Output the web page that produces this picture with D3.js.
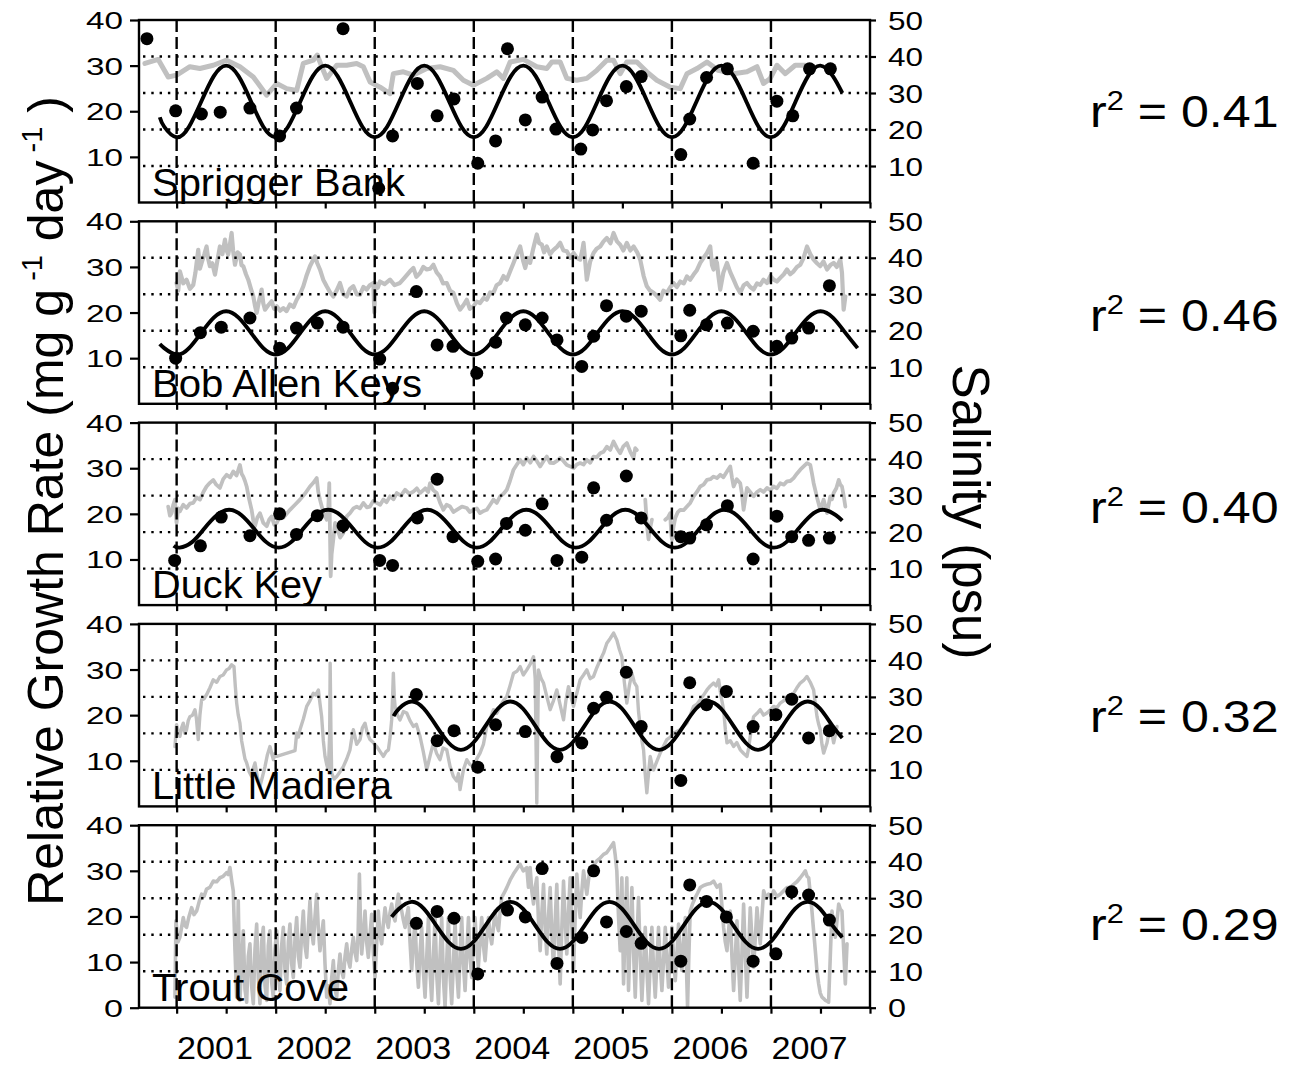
<!DOCTYPE html>
<html><head><meta charset="utf-8">
<script src="https://cdn.jsdelivr.net/npm/d3@7"></script>
<style>body{margin:0;background:#fff} svg text{font-family:"Liberation Sans",Arial,Helvetica,sans-serif;fill:#000}</style>
</head><body>
<svg id="c" width="1303" height="1065"></svg>
<script>
// ---------------- DATA ----------------
const sites = ["Sprigger Bank","Bob Allen Keys","Duck Key","Little Madiera","Trout Cove"];
const rSquared = ["0.41","0.46","0.40","0.32","0.29"];
const yearLabels = [2001,2002,2003,2004,2005,2006,2007];
const xTicks = [2001,2001.5,2002,2002.5,2003,2003.5,2004,2004.5,2005,2005.5,2006,2006.5,2007,2007.5,2008];
const rgrTicks = [10,20,30,40];
const rgrTicksBottom = [0,10,20,30,40];
const salTicks = [10,20,30,40,50];
const salTicksBottom = [0,10,20,30,40,50];
const salGrid = [10,20,30,40];

// Salinity (psu) series [decimal year, psu]
const sbSal = [[2000.680,38.1],[2000.814,39.2],[2000.915,34.4],[2001.000,34.9],[2001.134,37.2],[2001.235,36.7],[2001.370,37.6],[2001.505,39.0],[2001.639,37.2],[2001.774,34.4],[2001.909,29.4],[2002.010,32.6],[2002.111,31.2],[2002.212,30.7],[2002.279,38.1],[2002.380,39.0],[2002.420,40.4],[2002.465,37.2],[2002.515,34.0],[2002.616,37.6],[2002.717,37.6],[2002.818,38.1],[2002.885,37.2],[2002.953,33.0],[2003.054,31.6],[2003.155,29.8],[2003.188,35.3],[2003.289,35.8],[2003.390,34.9],[2003.525,36.7],[2003.660,37.2],[2003.794,36.2],[2003.895,33.5],[2003.996,32.1],[2004.131,34.0],[2004.232,35.8],[2004.299,34.0],[2004.367,38.5],[2004.501,39.2],[2004.636,37.2],[2004.737,36.7],[2004.788,38.5],[2004.872,38.5],[2004.939,34.0],[2005.040,33.5],[2005.141,34.0],[2005.242,36.2],[2005.343,39.0],[2005.410,39.0],[2005.478,35.3],[2005.545,38.5],[2005.646,38.5],[2005.747,35.8],[2005.848,33.5],[2005.983,31.6],[2006.084,31.2],[2006.152,35.3],[2006.253,36.7],[2006.354,38.5],[2006.468,36.2],[2006.622,35.3],[2006.758,35.8],[2006.859,37.2],[2006.925,32.6],[2006.993,34.0],[2007.061,37.6],[2007.145,35.3],[2007.245,37.6],[2007.346,37.6]];

const bakSal = [[2000.999,33.1],[2001.016,31.0],[2001.033,36.3],[2001.067,33.0],[2001.100,34.0],[2001.134,31.5],[2001.168,32.6],[2001.190,36.0],[2001.218,42.2],[2001.235,37.0],[2001.252,38.6],[2001.280,41.0],[2001.302,43.1],[2001.320,39.5],[2001.336,37.7],[2001.360,38.5],[2001.387,35.4],[2001.410,39.0],[2001.437,43.1],[2001.462,41.0],[2001.488,45.0],[2001.505,42.0],[2001.521,40.9],[2001.540,44.0],[2001.555,46.8],[2001.570,42.0],[2001.589,38.1],[2001.615,41.5],[2001.639,40.9],[2001.655,38.0],[2001.673,37.7],[2001.700,35.5],[2001.723,34.0],[2001.750,31.5],[2001.774,29.4],[2001.790,27.0],[2001.808,24.9],[2001.830,28.0],[2001.858,31.3],[2001.875,27.5],[2001.892,25.8],[2001.925,27.0],[2001.959,28.1],[2001.985,26.0],[2002.010,26.7],[2002.045,25.5],[2002.077,26.2],[2002.110,25.4],[2002.144,27.2],[2002.180,26.5],[2002.212,28.5],[2002.245,30.0],[2002.279,32.2],[2002.310,35.0],[2002.346,37.7],[2002.370,39.0],[2002.397,40.4],[2002.420,38.5],[2002.447,36.8],[2002.480,34.0],[2002.515,32.2],[2002.550,30.5],[2002.582,29.4],[2002.615,31.0],[2002.649,33.1],[2002.683,30.0],[2002.717,29.4],[2002.750,31.5],[2002.784,32.2],[2002.818,30.0],[2002.851,29.9],[2002.885,32.0],[2002.919,31.3],[2002.950,32.5],[2002.986,33.1],[2002.996,25.0],[2003.006,33.0],[2003.030,31.8],[2003.053,33.5],[2003.100,32.8],[2003.154,34.0],[2003.200,32.5],[2003.255,33.1],[2003.300,34.5],[2003.356,36.3],[2003.390,37.2],[2003.420,34.8],[2003.457,35.8],[2003.490,37.5],[2003.525,36.8],[2003.560,37.0],[2003.592,38.1],[2003.625,36.0],[2003.659,34.9],[2003.690,33.0],[2003.727,33.1],[2003.760,31.0],[2003.794,30.4],[2003.830,27.5],[2003.861,25.8],[2003.895,27.0],[2003.929,28.5],[2003.960,26.0],[2003.996,26.7],[2004.030,28.0],[2004.063,27.6],[2004.100,29.0],[2004.131,28.5],[2004.165,30.5],[2004.199,30.4],[2004.230,32.5],[2004.266,33.1],[2004.300,35.0],[2004.333,34.0],[2004.370,36.5],[2004.401,38.6],[2004.435,41.0],[2004.468,43.1],[2004.500,39.0],[2004.519,37.2],[2004.545,40.0],[2004.569,38.6],[2004.600,42.5],[2004.636,46.4],[2004.660,44.0],[2004.687,43.6],[2004.710,41.5],[2004.737,43.1],[2004.770,41.0],[2004.805,42.2],[2004.840,43.0],[2004.872,44.1],[2004.905,42.0],[2004.939,41.8],[2004.975,40.0],[2005.007,41.3],[2005.040,40.0],[2005.074,39.5],[2005.095,42.0],[2005.108,44.1],[2005.125,39.0],[2005.141,34.0],[2005.175,39.0],[2005.209,41.3],[2005.240,42.5],[2005.276,43.1],[2005.310,44.5],[2005.343,45.4],[2005.380,44.0],[2005.411,46.8],[2005.445,44.5],[2005.478,43.6],[2005.510,42.0],[2005.545,44.1],[2005.580,42.0],[2005.613,43.1],[2005.650,41.5],[2005.680,39.5],[2005.715,35.0],[2005.747,32.2],[2005.780,31.0],[2005.815,30.4],[2005.850,29.5],[2005.882,28.5],[2005.915,31.0],[2005.949,30.4],[2005.985,32.0],[2006.017,33.1],[2006.050,32.0],[2006.084,33.5],[2006.120,33.0],[2006.152,34.9],[2006.185,34.0],[2006.219,35.4],[2006.250,36.5],[2006.286,38.6],[2006.320,40.0],[2006.354,41.3],[2006.387,43.1],[2006.405,38.0],[2006.421,36.8],[2006.440,39.5],[2006.455,38.6],[2006.470,35.0],[2006.488,31.3],[2006.520,36.0],[2006.556,38.6],[2006.590,36.0],[2006.623,34.0],[2006.655,32.0],[2006.690,30.4],[2006.725,32.5],[2006.758,33.1],[2006.790,32.0],[2006.825,31.3],[2006.860,33.0],[2006.892,32.6],[2006.925,34.0],[2006.960,33.1],[2006.995,35.0],[2007.027,34.0],[2007.060,33.5],[2007.094,34.5],[2007.130,35.5],[2007.162,36.8],[2007.195,35.5],[2007.229,36.3],[2007.262,37.5],[2007.296,38.1],[2007.330,40.0],[2007.364,43.1],[2007.397,41.0],[2007.431,39.5],[2007.465,38.5],[2007.498,37.7],[2007.530,39.0],[2007.566,36.8],[2007.600,38.0],[2007.633,38.6],[2007.665,37.5],[2007.700,39.5],[2007.717,36.0],[2007.734,25.8],[2007.751,29.4]];

const dkSal = [[2000.915,27.0],[2000.932,24.5],[2000.949,25.2],[2000.966,27.5],[2000.983,28.9],[2000.999,22.5],[2001.016,26.5],[2001.033,25.7],[2001.067,27.5],[2001.100,26.6],[2001.134,27.8],[2001.168,28.0],[2001.200,29.5],[2001.235,28.9],[2001.270,31.0],[2001.302,32.5],[2001.336,33.5],[2001.370,34.3],[2001.400,33.0],[2001.437,32.1],[2001.470,34.5],[2001.504,35.7],[2001.540,35.0],[2001.572,36.6],[2001.605,35.5],[2001.639,38.4],[2001.656,36.0],[2001.673,35.2],[2001.690,34.0],[2001.707,32.5],[2001.732,29.0],[2001.757,26.1],[2001.775,23.0],[2001.791,21.6],[2001.815,24.0],[2001.841,25.2],[2001.875,22.5],[2001.909,21.6],[2001.935,23.5],[2001.959,24.3],[2001.985,22.0],[2002.010,22.5],[2002.045,24.5],[2002.077,23.9],[2002.110,25.0],[2002.144,26.1],[2002.195,27.5],[2002.245,28.9],[2002.295,30.5],[2002.346,32.5],[2002.380,33.5],[2002.414,34.8],[2002.430,31.0],[2002.447,28.9],[2002.480,25.5],[2002.515,23.4],[2002.530,26.0],[2002.541,33.4],[2002.548,20.0],[2002.555,7.9],[2002.565,14.0],[2002.582,18.0],[2002.600,22.5],[2002.616,21.6],[2002.650,18.5],[2002.683,19.8],[2002.700,22.0],[2002.717,24.3],[2002.750,25.2],[2002.785,26.5],[2002.818,27.0],[2002.850,26.5],[2002.885,28.0],[2002.920,26.8],[2002.952,27.0],[2002.985,28.5],[2003.020,28.0],[2003.055,27.5],[2003.087,28.9],[2003.120,28.2],[2003.154,29.8],[2003.190,29.0],[2003.222,30.7],[2003.265,30.0],[2003.306,31.6],[2003.350,30.5],[2003.390,31.1],[2003.425,32.0],[2003.457,30.7],[2003.510,32.0],[2003.540,31.0],[2003.558,33.4],[2003.590,31.5],[2003.626,30.7],[2003.660,28.0],[2003.693,26.1],[2003.725,27.5],[2003.760,27.0],[2003.795,25.5],[2003.828,26.1],[2003.880,27.0],[2003.929,26.6],[2003.960,25.5],[2003.996,26.1],[2004.030,26.5],[2004.063,25.2],[2004.100,25.8],[2004.131,26.1],[2004.165,27.5],[2004.199,28.9],[2004.232,28.0],[2004.266,29.8],[2004.300,30.5],[2004.333,31.6],[2004.365,34.0],[2004.401,37.1],[2004.435,38.5],[2004.468,39.8],[2004.500,38.5],[2004.535,40.3],[2004.570,39.0],[2004.603,40.7],[2004.636,39.5],[2004.670,38.0],[2004.705,39.5],[2004.737,40.7],[2004.770,39.0],[2004.805,38.9],[2004.840,39.5],[2004.872,40.3],[2004.905,39.5],[2004.939,38.4],[2004.975,38.0],[2005.007,37.5],[2005.040,38.5],[2005.074,38.9],[2005.108,38.5],[2005.141,39.8],[2005.175,39.0],[2005.209,40.7],[2005.242,40.5],[2005.276,41.6],[2005.310,42.0],[2005.343,43.4],[2005.377,42.5],[2005.411,44.8],[2005.445,43.0],[2005.478,41.6],[2005.510,43.5],[2005.545,44.4],[2005.580,42.0],[2005.613,40.3],[2005.630,43.0],[2005.646,42.5],[2005.660,null],[2005.731,28.9],[2005.748,22.0],[2005.764,18.0],[2005.780,21.0],[2005.798,23.4],[2005.810,null],[2005.933,23.4],[2005.960,24.0],[2005.983,25.2],[2005.992,20.0],[2006.000,18.0],[2006.017,21.5],[2006.034,23.9],[2006.060,25.5],[2006.084,26.1],[2006.118,26.0],[2006.152,27.0],[2006.185,28.0],[2006.219,29.8],[2006.252,31.0],[2006.286,32.5],[2006.320,33.0],[2006.354,34.3],[2006.388,34.5],[2006.421,35.2],[2006.455,34.8],[2006.488,35.7],[2006.520,35.0],[2006.556,36.6],[2006.589,38.0],[2006.606,35.0],[2006.623,32.5],[2006.655,34.5],[2006.690,33.4],[2006.707,30.5],[2006.724,26.1],[2006.740,29.0],[2006.758,32.1],[2006.790,31.0],[2006.825,29.8],[2006.860,31.0],[2006.892,31.6],[2006.925,31.0],[2006.960,32.1],[2006.995,31.5],[2007.027,32.5],[2007.060,32.0],[2007.094,33.4],[2007.130,33.0],[2007.162,33.9],[2007.195,34.0],[2007.229,34.8],[2007.262,36.0],[2007.296,37.1],[2007.330,38.0],[2007.364,38.9],[2007.397,38.4],[2007.414,36.0],[2007.431,33.4],[2007.465,29.5],[2007.498,26.1],[2007.515,27.5],[2007.532,28.9],[2007.550,27.0],[2007.566,25.2],[2007.583,27.5],[2007.599,29.8],[2007.616,29.0],[2007.633,30.7],[2007.660,32.0],[2007.684,34.3],[2007.700,33.0],[2007.717,32.5],[2007.734,30.0],[2007.751,27.0]];

const lmSal = [[2000.983,16.4],[2000.999,22.4],[2001.016,20.5],[2001.033,19.2],[2001.050,21.5],[2001.067,22.8],[2001.084,20.0],[2001.100,21.0],[2001.117,23.5],[2001.134,24.6],[2001.160,25.0],[2001.185,26.5],[2001.200,24.0],[2001.218,18.3],[2001.235,25.0],[2001.252,29.2],[2001.278,29.5],[2001.302,30.6],[2001.336,32.5],[2001.370,34.7],[2001.404,34.0],[2001.437,35.6],[2001.470,36.0],[2001.504,37.4],[2001.530,37.8],[2001.555,38.8],[2001.579,38.3],[2001.592,33.0],[2001.606,28.3],[2001.622,25.0],[2001.639,22.8],[2001.656,18.0],[2001.673,15.5],[2001.690,13.0],[2001.707,11.9],[2001.732,9.5],[2001.757,8.2],[2001.775,10.5],[2001.791,11.9],[2001.815,8.0],[2001.841,5.5],[2001.865,8.0],[2001.892,10.9],[2001.915,14.0],[2001.942,16.4],[2001.960,14.5],[2001.976,12.8],[2001.993,14.5],[2002.010,13.7],[2002.195,15.3],[2002.212,20.1],[2002.230,19.0],[2002.245,21.0],[2002.280,24.0],[2002.313,27.4],[2002.346,29.0],[2002.380,31.0],[2002.405,30.5],[2002.431,31.9],[2002.448,28.0],[2002.464,24.6],[2002.481,18.0],[2002.498,13.7],[2002.515,11.5],[2002.532,10.0],[2002.545,20.0],[2002.550,39.2],[2002.558,20.0],[2002.565,9.1],[2002.590,7.5],[2002.616,8.2],[2002.650,9.5],[2002.683,10.9],[2002.717,13.0],[2002.750,15.5],[2002.767,18.5],[2002.784,21.0],[2002.818,17.0],[2002.851,18.3],[2002.875,21.5],[2002.902,22.8],[2002.925,20.0],[2002.952,18.3],[2002.985,17.5],[2003.020,16.4],[2003.055,15.0],[2003.087,13.7],[2003.115,15.0],[2003.138,15.5],[2003.155,19.0],[2003.171,23.7],[2003.180,30.0],[2003.188,36.5],[2003.197,30.0],[2003.205,27.4],[2003.230,25.0],[2003.255,23.7],[2003.290,26.0],[2003.323,25.6],[2003.356,23.5],[2003.390,21.9],[2003.420,22.5],[2003.457,19.2],[2003.490,15.0],[2003.525,10.0],[2003.560,14.0],[2003.592,17.4],[2003.625,14.5],[2003.659,12.8],[2003.690,16.0],[2003.727,15.5],[2003.760,11.0],[2003.794,8.2],[2003.828,7.0],[2003.845,9.0],[2003.861,4.6],[2003.895,10.0],[2003.929,12.8],[2003.960,11.5],[2003.996,10.9],[2004.030,13.0],[2004.063,14.6],[2004.097,17.0],[2004.131,21.9],[2004.165,24.0],[2004.199,26.5],[2004.232,25.5],[2004.266,27.4],[2004.300,29.0],[2004.333,30.1],[2004.365,33.0],[2004.401,36.5],[2004.435,37.0],[2004.468,38.3],[2004.500,36.0],[2004.535,37.4],[2004.570,39.0],[2004.603,41.0],[2004.620,35.0],[2004.636,0.9],[2004.645,20.0],[2004.653,37.4],[2004.680,35.0],[2004.704,33.8],[2004.738,30.0],[2004.771,26.5],[2004.805,29.0],[2004.838,31.9],[2004.870,28.0],[2004.906,23.7],[2004.930,29.0],[2004.956,32.8],[2004.980,30.0],[2005.007,27.4],[2005.040,31.0],[2005.074,34.7],[2005.108,36.0],[2005.141,37.4],[2005.175,35.0],[2005.209,35.6],[2005.242,38.0],[2005.276,40.1],[2005.310,42.0],[2005.343,44.7],[2005.377,46.0],[2005.411,47.5],[2005.444,45.6],[2005.470,43.0],[2005.495,41.0],[2005.520,34.0],[2005.545,28.3],[2005.570,33.0],[2005.596,36.5],[2005.620,34.0],[2005.646,32.8],[2005.663,26.0],[2005.680,21.9],[2005.697,18.0],[2005.714,15.5],[2005.730,9.0],[2005.747,3.7],[2005.764,9.0],[2005.781,13.7],[2005.798,11.5],[2005.815,10.0],[2005.850,12.5],[2005.882,14.6],[2005.915,16.5],[2005.949,18.3],[2005.985,19.0],[2006.017,20.1],[2006.050,20.5],[2006.084,21.0],[2006.118,22.0],[2006.152,22.8],[2006.185,25.0],[2006.219,27.4],[2006.252,28.0],[2006.286,29.2],[2006.320,30.5],[2006.354,31.9],[2006.388,33.0],[2006.421,33.8],[2006.447,33.0],[2006.472,34.7],[2006.497,30.0],[2006.522,26.5],[2006.540,21.0],[2006.556,17.4],[2006.590,18.0],[2006.623,16.4],[2006.655,17.5],[2006.690,15.5],[2006.725,14.5],[2006.758,13.7],[2006.775,16.0],[2006.791,19.2],[2006.808,22.0],[2006.825,24.6],[2006.860,25.5],[2006.892,26.5],[2006.925,25.0],[2006.960,25.6],[2006.995,26.5],[2007.027,27.4],[2007.060,27.0],[2007.094,28.3],[2007.130,29.0],[2007.162,30.1],[2007.195,30.5],[2007.229,31.0],[2007.262,32.5],[2007.296,33.8],[2007.330,34.5],[2007.364,35.6],[2007.397,34.0],[2007.431,31.9],[2007.448,28.0],[2007.465,24.6],[2007.482,22.5],[2007.498,21.0],[2007.515,17.0],[2007.532,14.6],[2007.549,16.0],[2007.566,17.4],[2007.583,20.0],[2007.599,22.8],[2007.616,20.0],[2007.633,17.4],[2007.650,19.5],[2007.667,21.9]];

const tcSal = [[2000.983,2.9],[2000.993,23.8],[2001.013,18.0],[2001.033,19.3],[2001.050,22.0],[2001.067,24.7],[2001.084,22.5],[2001.100,22.0],[2001.125,25.0],[2001.151,27.4],[2001.175,25.5],[2001.202,26.5],[2001.227,29.0],[2001.252,31.1],[2001.277,30.5],[2001.302,32.5],[2001.336,33.0],[2001.370,34.7],[2001.404,34.5],[2001.437,35.6],[2001.470,36.0],[2001.504,37.0],[2001.521,36.5],[2001.538,38.4],[2001.555,35.0],[2001.572,32.0],[2001.589,15.6],[2001.606,2.9],[2001.622,29.3],[2001.639,2.0],[2001.656,12.0],[2001.673,21.1],[2001.690,5.0],[2001.707,1.5],[2001.723,14.0],[2001.740,17.5],[2001.757,6.0],[2001.774,1.1],[2001.791,16.0],[2001.808,22.9],[2001.825,8.0],[2001.841,1.1],[2001.858,18.0],[2001.875,22.0],[2001.892,6.0],[2001.909,2.0],[2001.925,17.0],[2001.942,21.1],[2001.959,7.0],[2001.976,2.9],[2001.993,16.0],[2002.010,21.1],[2002.027,9.0],[2002.043,4.7],[2002.060,17.0],[2002.077,22.0],[2002.094,10.0],[2002.111,6.5],[2002.128,18.0],[2002.144,22.9],[2002.161,12.0],[2002.178,8.3],[2002.195,19.0],[2002.212,24.7],[2002.229,14.0],[2002.245,11.1],[2002.262,20.0],[2002.279,26.5],[2002.296,17.0],[2002.313,13.8],[2002.330,22.0],[2002.346,29.3],[2002.363,21.0],[2002.380,17.5],[2002.397,25.0],[2002.414,31.1],[2002.430,22.0],[2002.447,15.6],[2002.464,20.0],[2002.481,23.8],[2002.498,12.0],[2002.515,2.9],[2002.531,6.0],[2002.548,1.1],[2002.565,8.0],[2002.582,12.9],[2002.599,5.0],[2002.616,2.9],[2002.632,10.0],[2002.649,14.7],[2002.666,10.0],[2002.683,8.3],[2002.700,14.0],[2002.717,17.5],[2002.733,13.0],[2002.750,11.1],[2002.767,16.0],[2002.784,19.3],[2002.801,15.0],[2002.818,12.9],[2002.832,20.0],[2002.845,36.6],[2002.857,22.0],[2002.868,14.7],[2002.885,20.0],[2002.902,26.5],[2002.918,18.0],[2002.935,13.8],[2002.952,20.0],[2002.969,25.6],[2002.986,15.0],[2003.003,8.3],[2003.020,18.0],[2003.036,26.5],[2003.053,20.0],[2003.070,17.5],[2003.087,23.0],[2003.104,27.4],[2003.120,24.0],[2003.137,22.0],[2003.154,26.0],[2003.171,28.4],[2003.188,25.0],[2003.205,23.8],[2003.222,28.0],[2003.238,31.1],[2003.255,28.0],[2003.272,26.5],[2003.289,24.0],[2003.306,22.0],[2003.322,25.0],[2003.339,27.4],[2003.356,18.0],[2003.373,10.2],[2003.390,18.0],[2003.407,23.8],[2003.424,12.0],[2003.441,5.6],[2003.457,15.0],[2003.474,22.0],[2003.491,10.0],[2003.508,2.9],[2003.525,14.0],[2003.542,24.7],[2003.558,10.0],[2003.575,2.0],[2003.592,14.0],[2003.609,24.7],[2003.626,9.0],[2003.643,1.1],[2003.659,14.0],[2003.676,24.7],[2003.693,8.0],[2003.710,0.2],[2003.727,13.0],[2003.744,24.7],[2003.760,9.0],[2003.777,1.1],[2003.794,12.0],[2003.811,23.8],[2003.828,10.0],[2003.845,2.9],[2003.861,14.0],[2003.878,24.7],[2003.895,12.0],[2003.912,4.7],[2003.929,15.0],[2003.946,24.7],[2003.962,14.0],[2003.979,8.3],[2003.996,17.0],[2004.013,24.7],[2004.030,16.0],[2004.046,11.1],[2004.063,18.0],[2004.080,24.7],[2004.097,17.0],[2004.114,12.9],[2004.131,19.0],[2004.148,24.7],[2004.165,20.0],[2004.181,17.5],[2004.198,22.0],[2004.215,26.5],[2004.232,23.0],[2004.249,21.1],[2004.265,26.0],[2004.282,30.2],[2004.308,31.5],[2004.333,32.9],[2004.367,35.0],[2004.400,36.6],[2004.434,38.0],[2004.467,39.3],[2004.500,37.5],[2004.535,38.4],[2004.552,33.0],[2004.569,38.4],[2004.586,32.0],[2004.603,28.4],[2004.620,33.0],[2004.636,35.6],[2004.653,24.0],[2004.670,15.6],[2004.687,26.0],[2004.704,33.8],[2004.720,22.0],[2004.737,14.7],[2004.754,25.0],[2004.771,32.9],[2004.788,20.0],[2004.805,11.1],[2004.822,24.0],[2004.838,33.8],[2004.855,18.0],[2004.872,6.5],[2004.889,22.0],[2004.906,34.7],[2004.922,24.0],[2004.939,14.7],[2004.956,26.0],[2004.973,35.6],[2004.990,22.0],[2005.007,10.2],[2005.024,25.0],[2005.040,36.6],[2005.057,30.0],[2005.074,24.7],[2005.091,32.0],[2005.108,37.5],[2005.125,34.0],[2005.141,31.1],[2005.158,35.0],[2005.175,38.4],[2005.208,39.0],[2005.242,40.2],[2005.276,41.0],[2005.310,42.0],[2005.343,42.5],[2005.377,43.8],[2005.394,44.5],[2005.411,45.2],[2005.427,42.0],[2005.444,37.5],[2005.461,25.0],[2005.478,15.6],[2005.487,25.0],[2005.495,35.6],[2005.504,20.0],[2005.512,6.5],[2005.528,22.0],[2005.545,35.6],[2005.554,20.0],[2005.562,4.7],[2005.579,20.0],[2005.596,32.9],[2005.613,15.0],[2005.630,2.9],[2005.646,17.0],[2005.663,30.2],[2005.680,14.0],[2005.697,2.0],[2005.714,12.0],[2005.731,22.0],[2005.748,10.0],[2005.764,1.1],[2005.781,12.0],[2005.798,22.0],[2005.815,11.0],[2005.832,2.9],[2005.848,12.0],[2005.865,22.0],[2005.882,12.0],[2005.899,4.7],[2005.916,13.0],[2005.933,22.0],[2005.950,13.0],[2005.966,5.6],[2005.983,14.0],[2006.000,22.0],[2006.017,14.0],[2006.034,7.4],[2006.051,15.0],[2006.067,22.9],[2006.084,16.0],[2006.101,10.2],[2006.118,18.0],[2006.135,24.7],[2006.146,12.0],[2006.158,0.2],[2006.171,14.0],[2006.185,26.5],[2006.210,28.5],[2006.236,30.2],[2006.261,31.5],[2006.286,32.9],[2006.320,33.5],[2006.354,33.8],[2006.388,34.0],[2006.421,34.7],[2006.455,33.0],[2006.488,33.8],[2006.505,28.0],[2006.522,22.0],[2006.539,18.0],[2006.556,15.6],[2006.572,21.0],[2006.589,26.5],[2006.606,14.0],[2006.623,4.7],[2006.640,14.0],[2006.657,23.8],[2006.673,12.0],[2006.690,2.0],[2006.707,15.0],[2006.724,28.4],[2006.741,15.0],[2006.758,2.9],[2006.774,15.0],[2006.791,27.4],[2006.808,19.0],[2006.825,11.1],[2006.842,19.0],[2006.859,27.4],[2006.875,22.0],[2006.892,17.5],[2006.909,25.0],[2006.926,32.0],[2006.951,30.0],[2006.976,31.1],[2007.001,30.0],[2007.027,32.0],[2007.060,30.5],[2007.094,31.1],[2007.128,32.0],[2007.162,32.9],[2007.195,33.0],[2007.229,33.8],[2007.262,34.5],[2007.296,35.6],[2007.322,36.5],[2007.347,37.5],[2007.364,36.0],[2007.381,35.6],[2007.398,31.0],[2007.414,26.5],[2007.431,21.0],[2007.448,15.6],[2007.465,10.0],[2007.482,6.5],[2007.498,4.0],[2007.515,2.9],[2007.532,2.5],[2007.549,2.0],[2007.566,1.8],[2007.582,1.5],[2007.599,14.0],[2007.616,26.5],[2007.633,22.0],[2007.650,19.3],[2007.667,24.0],[2007.684,28.4],[2007.700,27.0],[2007.717,26.5],[2007.734,16.0],[2007.751,6.5],[2007.768,17.5]];

// Relative growth rate observations [decimal year, mg g-1 day-1]
const sbRgr = [[2000.70,35.9],[2000.99,20.1],[2001.25,19.4],[2001.44,19.8],[2001.74,20.7],[2002.04,14.6],[2002.21,20.7],[2002.68,38.1],[2003.04,3.1],[2003.18,14.6],[2003.43,26.1],[2003.63,19.0],[2003.80,22.7],[2004.04,8.6],[2004.22,13.5],[2004.34,33.7],[2004.52,18.1],[2004.69,23.1],[2004.83,16.1],[2005.08,11.7],[2005.20,15.9],[2005.34,22.3],[2005.54,25.4],[2005.69,27.6],[2006.09,10.5],[2006.18,18.3],[2006.35,27.4],[2006.56,29.3],[2006.82,8.6],[2007.06,22.2],[2007.22,19.0],[2007.39,29.3],[2007.60,29.3]];
const bakRgr = [[2000.99,10.0],[2001.24,15.6],[2001.45,16.8],[2001.74,18.8],[2002.04,12.2],[2002.21,16.6],[2002.42,17.7],[2002.68,16.8],[2003.05,9.8],[2003.18,3.4],[2003.42,24.6],[2003.63,12.9],[2003.79,12.6],[2004.03,6.7],[2004.22,13.5],[2004.33,18.8],[2004.52,17.3],[2004.69,18.8],[2004.84,14.0],[2005.09,8.2],[2005.21,14.8],[2005.34,21.5],[2005.54,19.2],[2005.69,20.3],[2006.09,14.9],[2006.18,20.5],[2006.35,17.3],[2006.56,17.7],[2006.82,15.9],[2007.06,12.6],[2007.21,14.4],[2007.38,16.6],[2007.59,25.9]];
const dkRgr = [[2000.98,9.8],[2001.24,13.0],[2001.45,19.3],[2001.74,15.2],[2002.04,20.0],[2002.21,15.5],[2002.42,19.6],[2002.68,17.4],[2003.05,9.8],[2003.18,8.7],[2003.43,19.1],[2003.63,27.6],[2003.79,15.0],[2004.04,9.6],[2004.22,10.1],[2004.33,17.9],[2004.52,16.4],[2004.69,22.2],[2004.84,9.8],[2005.09,10.5],[2005.21,25.7],[2005.34,18.6],[2005.54,28.3],[2005.69,19.1],[2006.09,15.0],[2006.18,14.7],[2006.35,17.6],[2006.56,21.8],[2006.82,10.1],[2007.06,19.5],[2007.21,15.0],[2007.38,14.2],[2007.59,14.7]];
const lmRgr = [[2003.42,24.5],[2003.63,14.4],[2003.80,16.6],[2004.04,8.6],[2004.22,17.9],[2004.52,16.4],[2004.84,10.9],[2005.09,13.9],[2005.21,21.5],[2005.34,23.9],[2005.54,29.4],[2005.69,17.5],[2006.09,5.7],[2006.18,27.1],[2006.35,22.3],[2006.55,25.2],[2006.82,17.5],[2007.05,20.1],[2007.21,23.5],[2007.38,15.0],[2007.59,16.6]];
const tcRgr = [[2003.42,18.5],[2003.63,21.1],[2003.80,19.6],[2004.04,7.4],[2004.34,21.4],[2004.52,19.9],[2004.69,30.5],[2004.84,9.7],[2005.09,15.4],[2005.21,30.0],[2005.34,18.8],[2005.54,16.7],[2005.69,14.1],[2006.09,10.2],[2006.18,26.9],[2006.35,23.3],[2006.55,19.9],[2006.82,10.2],[2007.05,11.8],[2007.21,25.4],[2007.38,24.7],[2007.59,19.2]];

// Fitted seasonal growth curves, read every 1.5 months [decimal year, mg g-1 day-1]
const sbFit = [[2000.83,18.7],[2000.875,16.6],[2001,14.3],[2001.125,16.6],[2001.25,22.2],[2001.375,27.7],[2001.5,30.0],[2001.625,27.7],[2001.75,22.2],[2001.875,16.6],[2002,14.3],[2002.125,16.6],[2002.25,22.2],[2002.375,27.7],[2002.5,30.0],[2002.625,27.7],[2002.75,22.2],[2002.875,16.6],[2003,14.3],[2003.125,16.6],[2003.25,22.2],[2003.375,27.7],[2003.5,30.0],[2003.625,27.7],[2003.75,22.2],[2003.875,16.6],[2004,14.3],[2004.125,16.6],[2004.25,22.2],[2004.375,27.7],[2004.5,30.0],[2004.625,27.7],[2004.75,22.2],[2004.875,16.6],[2005,14.3],[2005.125,16.6],[2005.25,22.2],[2005.375,27.7],[2005.5,30.0],[2005.625,27.7],[2005.75,22.2],[2005.875,16.6],[2006,14.3],[2006.125,16.6],[2006.25,22.2],[2006.375,27.7],[2006.5,30.0],[2006.625,27.7],[2006.75,22.2],[2006.875,16.6],[2007,14.3],[2007.125,16.6],[2007.25,22.2],[2007.375,27.7],[2007.5,30.0],[2007.625,27.7],[2007.72,24.0]];
const bakFit = [[2000.83,13.1],[2000.875,12.2],[2001,10.8],[2001.125,12.2],[2001.25,15.6],[2001.375,18.9],[2001.5,20.3],[2001.625,18.9],[2001.75,15.6],[2001.875,12.2],[2002,10.8],[2002.125,12.2],[2002.25,15.6],[2002.375,18.9],[2002.5,20.3],[2002.625,18.9],[2002.75,15.6],[2002.875,12.2],[2003,10.8],[2003.125,12.2],[2003.25,15.6],[2003.375,18.9],[2003.5,20.3],[2003.625,18.9],[2003.75,15.6],[2003.875,12.2],[2004,10.8],[2004.125,12.2],[2004.25,15.6],[2004.375,18.9],[2004.5,20.3],[2004.625,18.9],[2004.75,15.6],[2004.875,12.2],[2005,10.8],[2005.125,12.2],[2005.25,15.6],[2005.375,18.9],[2005.5,20.3],[2005.625,18.9],[2005.75,15.6],[2005.875,12.2],[2006,10.8],[2006.125,12.2],[2006.25,15.6],[2006.375,18.9],[2006.5,20.3],[2006.625,18.9],[2006.75,15.6],[2006.875,12.2],[2007,10.8],[2007.125,12.2],[2007.25,15.6],[2007.375,18.9],[2007.5,20.3],[2007.625,18.9],[2007.75,15.6],[2007.875,12.2]];
const dkFit = [[2000.97,13.0],[2001.03,12.6],[2001.155,13.8],[2001.28,16.8],[2001.405,19.7],[2001.53,20.9],[2001.655,19.7],[2001.78,16.8],[2001.905,13.8],[2002.03,12.6],[2002.155,13.8],[2002.28,16.8],[2002.405,19.7],[2002.53,20.9],[2002.655,19.7],[2002.78,16.8],[2002.905,13.8],[2003.03,12.6],[2003.155,13.8],[2003.28,16.8],[2003.405,19.7],[2003.53,20.9],[2003.655,19.7],[2003.78,16.8],[2003.905,13.8],[2004.03,12.6],[2004.155,13.8],[2004.28,16.8],[2004.405,19.7],[2004.53,20.9],[2004.655,19.7],[2004.78,16.8],[2004.905,13.8],[2005.03,12.6],[2005.155,13.8],[2005.28,16.8],[2005.405,19.7],[2005.53,20.9],[2005.655,19.7],[2005.78,16.8],[2005.905,13.8],[2006.03,12.6],[2006.155,13.8],[2006.28,16.8],[2006.405,19.7],[2006.53,20.9],[2006.655,19.7],[2006.78,16.8],[2006.905,13.8],[2007.03,12.6],[2007.155,13.8],[2007.28,16.8],[2007.405,19.7],[2007.53,20.9],[2007.655,19.7],[2007.72,18.5]];
const lmFit = [[2003.19,19.8],[2003.245,21.45],[2003.37,23.0],[2003.495,21.45],[2003.62,17.7],[2003.745,13.95],[2003.87,12.4],[2003.995,13.95],[2004.12,17.7],[2004.245,21.45],[2004.37,23.0],[2004.495,21.45],[2004.62,17.7],[2004.745,13.95],[2004.87,12.4],[2004.995,13.95],[2005.12,17.7],[2005.245,21.45],[2005.37,23.0],[2005.495,21.45],[2005.62,17.7],[2005.745,13.95],[2005.87,12.4],[2005.995,13.95],[2006.12,17.7],[2006.245,21.45],[2006.37,23.0],[2006.495,21.45],[2006.62,17.7],[2006.745,13.95],[2006.87,12.4],[2006.995,13.95],[2007.12,17.7],[2007.245,21.45],[2007.37,23.0],[2007.495,21.45],[2007.62,17.7],[2007.72,15.0]];
const tcFit = [[2003.17,19.9],[2003.245,21.7],[2003.37,23.2],[2003.495,21.7],[2003.62,18.05],[2003.745,14.4],[2003.87,12.9],[2003.995,14.4],[2004.12,18.05],[2004.245,21.7],[2004.37,23.2],[2004.495,21.7],[2004.62,18.05],[2004.745,14.4],[2004.87,12.9],[2004.995,14.4],[2005.12,18.05],[2005.245,21.7],[2005.37,23.2],[2005.495,21.7],[2005.62,18.05],[2005.745,14.4],[2005.87,12.9],[2005.995,14.4],[2006.12,18.05],[2006.245,21.7],[2006.37,23.2],[2006.495,21.7],[2006.62,18.05],[2006.745,14.4],[2006.87,12.9],[2006.995,14.4],[2007.12,18.05],[2007.245,21.7],[2007.37,23.2],[2007.495,21.7],[2007.62,18.05],[2007.72,15.4]];

// ---------------- CHART ----------------
const svg = d3.select("#c");
const plotL = 139, plotR = 870;
const x = d3.scaleLinear().domain([2000.62, 2008.0]).range([plotL, plotR]);
const panels = [
  {sal: sbSal, rgr: sbRgr, fit: sbFit, salW: 5, labelW: 253},
  {sal: bakSal, rgr: bakRgr, fit: bakFit, salW: 4.2, labelW: 270},
  {sal: dkSal, rgr: dkRgr, fit: dkFit, salW: 3.8, labelW: 170},
  {sal: lmSal, rgr: lmRgr, fit: lmFit, salW: 3.4, labelW: 240},
  {sal: tcSal, rgr: tcRgr, fit: tcFit, salW: 3.6, labelW: 197}
];
const r2Y = [127, 331, 523, 732, 940];
const gray = "#c0c0c0";

panels.forEach((p, i) => {
  const top = 20 + i * 201.3, bot = top + 182.5;
  const yL = d3.scaleLinear().domain([0, 40]).range([bot, top]);
  const yR = d3.scaleLinear().domain([0, 50]).range([bot, top]);
  const g = svg.append("g");
  const cid = "clip" + i;
  svg.append("clipPath").attr("id", cid).append("rect")
    .attr("x", plotL).attr("y", top).attr("width", plotR - plotL).attr("height", bot - top);

  // salinity
  g.append("path").datum(p.sal)
    .attr("clip-path", `url(#${cid})`)
    .attr("fill", "none").attr("stroke", gray).attr("stroke-width", p.salW)
    .attr("stroke-linejoin", "round").attr("stroke-linecap", "round")
    .attr("d", d3.line().defined(d => d[1] != null).x(d => x(d[0])).y(d => yR(d[1])));

  // dotted salinity grid
  g.selectAll(".hg").data(salGrid).enter().append("line")
    .attr("x1", plotL + 4).attr("x2", plotR).attr("y1", d => yR(d)).attr("y2", d => yR(d))
    .attr("stroke", "#000").attr("stroke-width", 2.4).attr("stroke-dasharray", "2.4,5.9");

  // dashed year lines
  g.selectAll(".vg").data(yearLabels).enter().append("line")
    .attr("x1", d => x(d)).attr("x2", d => x(d)).attr("y1", top).attr("y2", bot)
    .attr("stroke", "#000").attr("stroke-width", 2.4).attr("stroke-dasharray", "12,5");

  // fit curve
  g.append("path").datum(p.fit)
    .attr("fill", "none").attr("stroke", "#000").attr("stroke-width", 3.9)
    .attr("d", d3.line().curve(d3.curveNatural).x(d => x(d[0])).y(d => yL(d[1])));

  // observations
  g.selectAll(".dot").data(p.rgr).enter().append("circle")
    .attr("cx", d => x(d[0])).attr("cy", d => yL(d[1])).attr("r", 6.5).attr("fill", "#000");

  // frame
  g.append("rect").attr("x", plotL).attr("y", top).attr("width", plotR - plotL).attr("height", bot - top)
    .attr("fill", "none").attr("stroke", "#000").attr("stroke-width", 2.4);

  // left axis
  const axL = g.append("g").attr("transform", `translate(${plotL},0)`)
    .call(d3.axisLeft(yL).tickValues(i === 4 ? rgrTicksBottom : rgrTicks).tickSize(9).tickPadding(0).tickFormat(d3.format("d")));
  axL.select(".domain").remove();
  axL.selectAll("line").attr("stroke", "#000").attr("stroke-width", 2.2);
  axL.selectAll("text").attr("x", -16).attr("dy", null).attr("y", 8.5)
    .attr("font-size", 24).attr("text-anchor", "end")
    .attr("textLength", d => d < 10 ? 19 : 37).attr("lengthAdjust", "spacingAndGlyphs");

  // right axis
  const axR = g.append("g").attr("transform", `translate(${plotR},0)`)
    .call(d3.axisRight(yR).tickValues(i === 4 ? salTicksBottom : salTicks).tickSize(6).tickPadding(0).tickFormat(d3.format("d")));
  axR.select(".domain").remove();
  axR.selectAll("line").attr("stroke", "#000").attr("stroke-width", 2.2);
  axR.selectAll("text").attr("x", 18).attr("dy", null).attr("y", 9)
    .attr("font-size", 25).attr("text-anchor", "start")
    .attr("textLength", d => d < 10 ? 18 : 35).attr("lengthAdjust", "spacingAndGlyphs");

  // bottom ticks
  const axB = g.append("g").attr("transform", `translate(0,${bot})`)
    .call(d3.axisBottom(x).tickValues(xTicks).tickSize(6).tickFormat(""));
  axB.select(".domain").remove();
  axB.selectAll("line").attr("stroke", "#000").attr("stroke-width", 2.2);

  // site label
  g.append("text").attr("x", 152).attr("y", bot - 7).attr("font-size", 39)
    .attr("textLength", p.labelW).attr("lengthAdjust", "spacingAndGlyphs").text(sites[i]);

  // r2
  const rt = svg.append("text").attr("transform", `translate(1090,${r2Y[i]}) scale(1.14,1)`).attr("font-size", 44);
  rt.append("tspan").text("r");
  rt.append("tspan").attr("font-size", 27).attr("dy", -17).text("2");
  rt.append("tspan").attr("dy", 17).text(" = " + rSquared[i]);

  if (i === 4) {
    svg.selectAll(".yl").data(yearLabels).enter().append("text")
      .attr("x", d => x(d) + 0.5).attr("y", 1059).attr("font-size", 31)
      .attr("textLength", 76).attr("lengthAdjust", "spacingAndGlyphs")
      .text(d => d);
  }
});

// axis titles
const lt = svg.append("text").attr("transform", "translate(63,501) rotate(-90)")
  .attr("text-anchor", "middle").attr("font-size", 50);
lt.append("tspan").text("Relative Growth Rate (mg g");
lt.append("tspan").attr("font-size", 29).attr("dy", -21).text(" -1");
lt.append("tspan").attr("dy", 21).text(" day");
lt.append("tspan").attr("font-size", 29).attr("dy", -21).text(" -1");
lt.append("tspan").attr("dy", 21).text(" )");

svg.append("text").attr("transform", "translate(953,512) rotate(90)")
  .attr("text-anchor", "middle").attr("font-size", 51).text("Salinity (psu)");
</script>
</body></html>
